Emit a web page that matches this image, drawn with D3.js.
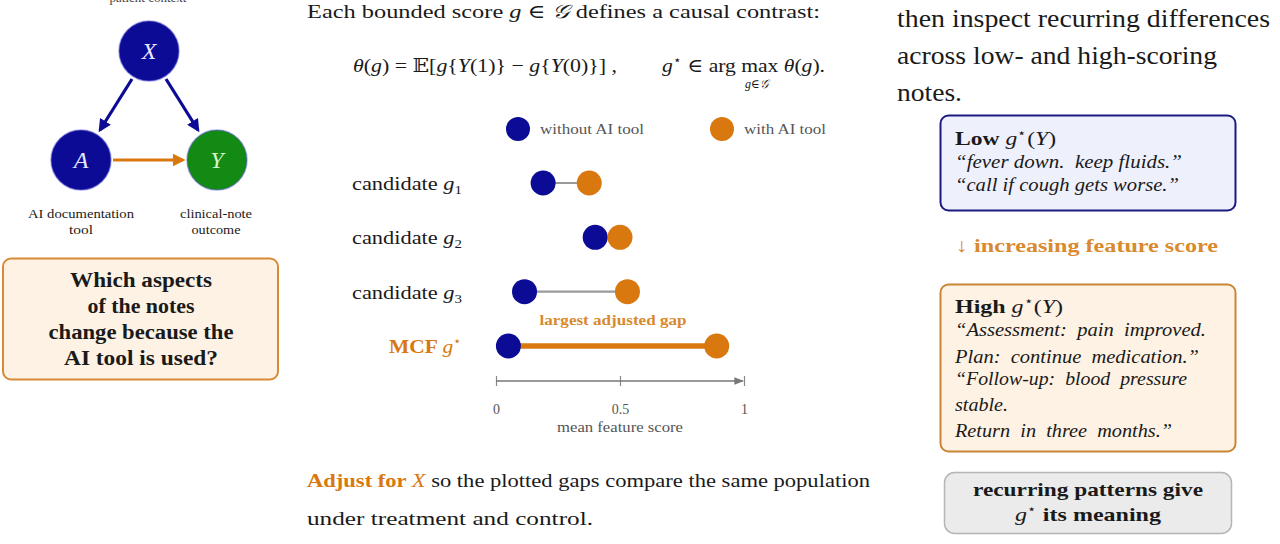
<!DOCTYPE html>
<html><head><meta charset="utf-8">
<script src="https://cdn.jsdelivr.net/npm/d3@7"></script>
<style>
html,body{margin:0;padding:0;background:#fff;}
svg{display:block;font-family:"Liberation Serif","DejaVu Serif",serif;}
</style></head>
<body>
<svg id="c" width="1280" height="544"></svg>
<script>
// ---- data ----
const categories = ["candidate g1", "candidate g2", "candidate g3", "MCF g*"];
const withoutTool = [0.19, 0.40, 0.115, 0.05];
const withTool = [0.376, 0.50, 0.53, 0.89];
const tickValues = [0, 0.5, 1];
const tickLabels = ["0", "0.5", "1"];
const legendLabels = ["without AI tool", "with AI tool"];

const NAVY = "#0b0b96", ORANGE = "#d9780f", GREEN = "#138a13", GRAY = "#9a9a9a", TXT = "#1a1a1a";
const svg = d3.select("#c");
const fit = (sel, w) => sel.attr("textLength", w).attr("lengthAdjust", "spacingAndGlyphs");

// ---------- left: DAG ----------
svg.append("defs").html(`
 <marker id="ahN" viewBox="0 0 10 10" refX="8" refY="5" markerWidth="4" markerHeight="4" orient="auto"><path d="M0,0L10,5L0,10z" fill="${NAVY}"/></marker>
 <marker id="ahO" viewBox="0 0 10 10" refX="8" refY="5" markerWidth="4" markerHeight="4" orient="auto"><path d="M0,0L10,5L0,10z" fill="${ORANGE}"/></marker>
 <marker id="ahG" viewBox="0 0 10 10" refX="9" refY="5" markerWidth="6" markerHeight="6" orient="auto"><path d="M0,1L10,5L0,9z" fill="#777"/></marker>`);

svg.append("text").attr("x",148).attr("y",2).attr("text-anchor","middle").attr("font-size",13).attr("fill","#444").text("patient context");

const nodes = [{id:"X",x:149,y:51,c:NAVY},{id:"A",x:81,y:160,c:NAVY},{id:"Y",x:217,y:160,c:GREEN}];
const edges = [{s:[132,79],t:[100,130],m:"ahN",c:NAVY},{s:[166,79],t:[198,130],m:"ahN",c:NAVY},{s:[113,160],t:[183,160],m:"ahO",c:ORANGE}];
svg.selectAll("line.edge").data(edges).join("line").attr("class","edge")
  .attr("x1",d=>d.s[0]).attr("y1",d=>d.s[1]).attr("x2",d=>d.t[0]).attr("y2",d=>d.t[1])
  .attr("stroke",d=>d.c).attr("stroke-width",3.2).attr("marker-end",d=>`url(#${d.m})`);
const ng = svg.selectAll("g.node").data(nodes).join("g").attr("transform",d=>`translate(${d.x},${d.y})`);
ng.append("circle").attr("r",30).attr("fill",d=>d.c).attr("stroke","#5a5ad0").attr("stroke-opacity",0.5).attr("stroke-width",1.5);
ng.append("text").attr("text-anchor","middle").attr("dy",8).attr("font-size",24).attr("font-style","italic").attr("fill",d=>d.id==="Y"?"#d8f5c8":"#e8e8ff").text(d=>d.id);

const nodeLabels = [{x:81,lines:["AI documentation","tool"],w:[106,24]},{x:216,lines:["clinical-note","outcome"],w:[72,49]}];
nodeLabels.forEach(l=>l.lines.forEach((s,i)=>fit(svg.append("text").attr("x",l.x).attr("y",218+i*16).attr("text-anchor","middle").attr("font-size",13.5).attr("fill",TXT).text(s), l.w[i])));

// question box
svg.append("rect").attr("x",3).attr("y",258.5).attr("width",275).attr("height",121).attr("rx",8)
  .attr("fill","#fdf2e4").attr("stroke","#d88a35").attr("stroke-width",2);
const qLines = ["Which aspects","of the notes","change because the","AI tool is used?"], qW = [142,107,185,154];
qLines.forEach((s,i)=>
  fit(svg.append("text").attr("x",141).attr("y",287+i*26).attr("text-anchor","middle").attr("font-size",20).attr("font-weight","bold").attr("fill",TXT).text(s), qW[i]));

// ---------- middle ----------
const t1 = svg.append("text").attr("x",307).attr("y",18).attr("font-size",19).attr("fill",TXT);
t1.append("tspan").text("Each bounded score ");
t1.append("tspan").attr("font-style","italic").text("g");
t1.append("tspan").text(" ∈ ");
t1.append("tspan").attr("font-style","italic").text("𝒢");
t1.append("tspan").text(" defines a causal contrast:");
fit(t1, 513);

const f1 = svg.append("text").attr("x",353).attr("y",72).attr("font-size",19).attr("fill",TXT);
f1.append("tspan").attr("font-style","italic").text("θ");
f1.append("tspan").text("(");
f1.append("tspan").attr("font-style","italic").text("g");
f1.append("tspan").text(") = 𝔼[");
f1.append("tspan").attr("font-style","italic").text("g");
f1.append("tspan").text("{");
f1.append("tspan").attr("font-style","italic").text("Y");
f1.append("tspan").text("(1)} − ");
f1.append("tspan").attr("font-style","italic").text("g");
f1.append("tspan").text("{");
f1.append("tspan").attr("font-style","italic").text("Y");
f1.append("tspan").text("(0)}] ,");
fit(f1, 264);

const f2 = svg.append("text").attr("x",662).attr("y",72).attr("font-size",19).attr("fill",TXT);
f2.append("tspan").attr("font-style","italic").text("g");
f2.append("tspan").attr("font-size",12).attr("dy",-8).text("⋆");
f2.append("tspan").attr("dy",8).text(" ∈ arg max ");
f2.append("tspan").attr("font-style","italic").text("θ");
f2.append("tspan").text("(");
f2.append("tspan").attr("font-style","italic").text("g");
f2.append("tspan").text(").");
fit(f2, 163);
svg.append("text").attr("x",757).attr("y",88).attr("text-anchor","middle").attr("font-size",12).attr("font-style","italic").attr("fill",TXT).text("g∈𝒢");

// scales
const x = d3.scaleLinear().domain([0,1]).range([496,744]);
const y = d3.scalePoint().domain(categories).range([183,346]);
const R = 12.5;

// legend
const legend = [{label:legendLabels[0],c:NAVY,x:518,w:104},{label:legendLabels[1],c:ORANGE,x:722,w:82}];
const lg = svg.selectAll("g.leg").data(legend).join("g").attr("transform",d=>`translate(${d.x},129)`);
lg.append("circle").attr("r",12).attr("fill",d=>d.c);
lg.append("text").attr("x",22).attr("y",5).attr("font-size",14.5).attr("fill","#555").text(d=>d.label)
  .attr("textLength",d=>d.w).attr("lengthAdjust","spacingAndGlyphs");

// category labels
categories.forEach((c,i)=>{
  const isM = i===3;
  const t = svg.append("text").attr("x",462).attr("y",y(c)+7).attr("text-anchor","end").attr("font-size",19.5)
     .attr("fill",isM?ORANGE:TXT).attr("font-weight",isM?"bold":"normal");
  if(isM){
    t.append("tspan").text("MCF ");
    t.append("tspan").attr("font-style","italic").attr("font-weight","normal").text("g");
    t.append("tspan").attr("font-size",12).attr("dy",-8).attr("font-weight","normal").text("⋆");
    fit(t, 73);
  } else {
    t.append("tspan").text("candidate ");
    t.append("tspan").attr("font-style","italic").text("g");
    t.append("tspan").attr("font-size",13).attr("dy",4).text(c.slice(-1));
    fit(t, 110);
  }
});

// connectors
const rows = categories.map((c,i)=>({c,a:withoutTool[i],b:withTool[i],m:i===3}));
svg.selectAll("line.conn").data(rows).join("line").attr("class","conn")
  .attr("x1",d=>x(d.a)).attr("x2",d=>x(d.b)).attr("y1",d=>y(d.c)).attr("y2",d=>y(d.c))
  .attr("stroke",d=>d.m?ORANGE:GRAY).attr("stroke-width",d=>d.m?5.5:2.2);
svg.selectAll("circle.wo").data(rows).join("circle").attr("class","wo")
  .attr("cx",d=>x(d.a)).attr("cy",d=>y(d.c)).attr("r",R).attr("fill",NAVY);
svg.selectAll("circle.wi").data(rows).join("circle").attr("class","wi")
  .attr("cx",d=>x(d.b)).attr("cy",d=>y(d.c)).attr("r",R).attr("fill",ORANGE);

fit(svg.append("text").attr("x",613).attr("y",325).attr("text-anchor","middle").attr("font-size",15).attr("font-weight","bold").attr("fill","#d98a2e").text("largest adjusted gap"), 147);

// axis
const axisY = 381;
const ax = svg.append("g").attr("transform",`translate(0,${axisY})`)
  .call(d3.axisBottom(x).tickValues(tickValues).tickFormat((d,i)=>tickLabels[i]).tickSize(5).tickPadding(18));
ax.select(".domain").remove();
ax.selectAll(".tick line").attr("y1",-5).attr("y2",5).attr("stroke","#888").attr("stroke-width",1.2);
ax.selectAll(".tick text").attr("font-family","Liberation Serif, serif").attr("font-size",14).attr("fill","#555");
svg.append("line").attr("x1",x(0)).attr("x2",x(1)-1).attr("y1",axisY).attr("y2",axisY)
  .attr("stroke","#777").attr("stroke-width",1.6).attr("marker-end","url(#ahG)");
fit(svg.append("text").attr("x",x(0.5)).attr("y",432).attr("text-anchor","middle").attr("font-size",14.5).attr("fill","#555").text("mean feature score"), 126);

const b1 = svg.append("text").attr("x",307).attr("y",487).attr("font-size",19).attr("fill",TXT);
b1.append("tspan").attr("fill",ORANGE).attr("font-weight","bold").text("Adjust for ");
b1.append("tspan").attr("fill",ORANGE).attr("font-style","italic").text("X");
b1.append("tspan").text(" so the plotted gaps compare the same population");
fit(b1, 563);
fit(svg.append("text").attr("x",307).attr("y",525).attr("font-size",19).attr("fill",TXT).text("under treatment and control."), 286);

// ---------- right ----------
const hdr = ["then inspect recurring differences","across low- and high-scoring","notes."], hdrW = [373,320,65];
hdr.forEach((s,i)=>
  fit(svg.append("text").attr("x",897).attr("y",27+i*37).attr("font-size",25).attr("fill",TXT).text(s), hdrW[i]));

svg.append("rect").attr("x",940.5).attr("y",115.5).attr("width",295).attr("height",95).attr("rx",8)
  .attr("fill","#eef0fb").attr("stroke","#1a1a80").attr("stroke-width",2);
const lw = svg.append("text").attr("x",955).attr("y",145).attr("font-size",19).attr("fill",TXT);
lw.append("tspan").attr("font-weight","bold").text("Low");
lw.append("tspan").text("  ");
lw.append("tspan").attr("font-style","italic").text("g");
lw.append("tspan").attr("font-size",12).attr("dy",-8).text("⋆");
lw.append("tspan").attr("dy",8).text("(");
lw.append("tspan").attr("font-style","italic").text("Y");
lw.append("tspan").text(")");
fit(lw, 101);
const lowLines = ["“fever down.  keep fluids.”","“call if cough gets worse.”"], lowW = [227,224];
lowLines.forEach((s,i)=>
  fit(svg.append("text").attr("x",955).attr("y",168+i*23).attr("font-size",19).attr("font-style","italic").attr("fill",TXT).attr("xml:space","preserve").text(s), lowW[i]));

const inc = svg.append("text").attr("x",956).attr("y",252).attr("font-size",19.5).attr("fill","#d98a2e");
inc.append("tspan").text("↓ ");
inc.append("tspan").attr("font-weight","bold").text("increasing feature score");
fit(inc, 262);

svg.append("rect").attr("x",940.5).attr("y",284.5).attr("width",295).attr("height",167).attr("rx",8)
  .attr("fill","#fdf2e4").attr("stroke","#c98538").attr("stroke-width",2);
const hg = svg.append("text").attr("x",955).attr("y",313).attr("font-size",19).attr("fill",TXT);
hg.append("tspan").attr("font-weight","bold").text("High");
hg.append("tspan").text(" ");
hg.append("tspan").attr("font-style","italic").text("g");
hg.append("tspan").attr("font-size",12).attr("dy",-8).text("⋆");
hg.append("tspan").attr("dy",8).text("(");
hg.append("tspan").attr("font-style","italic").text("Y");
hg.append("tspan").text(")");
fit(hg, 108);
const highLines = ["“Assessment:  pain  improved.","Plan:  continue  medication.”","“Follow-up:  blood  pressure","stable.","Return  in  three  months.”"];
const highW = [251,244,232,53,217];
const highY = [336,363,385,411,437];
highLines.forEach((s,i)=>fit(svg.append("text").attr("x",955).attr("y",highY[i]).attr("font-size",19).attr("font-style","italic").attr("fill",TXT).attr("xml:space","preserve").text(s), highW[i]));

svg.append("rect").attr("x",944.5).attr("y",472.5).attr("width",287).attr("height",61).attr("rx",10)
  .attr("fill","#ebebeb").attr("stroke","#b5b5b5").attr("stroke-width",1.5);
fit(svg.append("text").attr("x",1088).attr("y",496).attr("text-anchor","middle").attr("font-size",19.5).attr("font-weight","bold").attr("fill",TXT).text("recurring patterns give"), 230);
const rp = svg.append("text").attr("x",1088).attr("y",521).attr("text-anchor","middle").attr("font-size",19.5).attr("fill",TXT);
rp.append("tspan").attr("font-style","italic").text("g");
rp.append("tspan").attr("font-size",12).attr("dy",-8).text("⋆");
rp.append("tspan").attr("dy",8).attr("font-weight","bold").text(" its meaning");
fit(rp, 146);
</script>
</body></html>
